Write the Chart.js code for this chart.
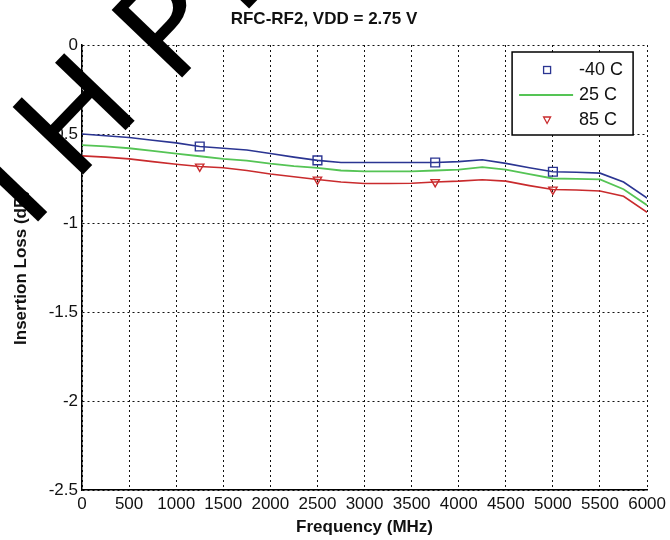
<!DOCTYPE html>
<html lang="en">
<head>
    <meta charset="UTF-8">
    <title>RFC-RF2 Insertion Loss</title>
    <script src="https://cdn.jsdelivr.net/npm/chart.js"></script>
    <style>
        body {
            margin: 0;
            padding: 0;
            background-color: #fff;
        }
        .chart-box {
            width: 670px;
            height: 540px;
        }
    </style>
</head>
<body>
    <div class="chart-box">
        <canvas id="lossChart" width="670" height="540"></canvas>
    </div>

    <script>
        // Werte
        const freqMHz = [0, 250, 500, 750, 1000, 1250, 1500, 1750, 2000, 2250, 2500, 2750, 3000,
                         3250, 3500, 3750, 4000, 4250, 4500, 4750, 5000, 5250, 5500, 5750, 6000];
        const lossM40 = [-0.50, -0.51, -0.52, -0.535, -0.55, -0.57, -0.58, -0.59, -0.61, -0.63, -0.648, -0.66, -0.66,
                         -0.66, -0.66, -0.66, -0.655, -0.645, -0.665, -0.69, -0.712, -0.715, -0.72, -0.77, -0.86];
        const loss25 = [-0.563, -0.57, -0.58, -0.595, -0.61, -0.625, -0.64, -0.65, -0.667, -0.68, -0.69, -0.705, -0.71,
                        -0.71, -0.71, -0.705, -0.70, -0.686, -0.70, -0.725, -0.75, -0.752, -0.755, -0.81, -0.90];
        const loss85 = [-0.623, -0.63, -0.64, -0.655, -0.67, -0.683, -0.69, -0.705, -0.725, -0.74, -0.756, -0.77, -0.778,
                        -0.778, -0.777, -0.77, -0.765, -0.757, -0.765, -0.79, -0.812, -0.815, -0.82, -0.85, -0.94];
        const markerIdx = [5, 10, 15, 20];
        const seriesNames = ['-40 C', '25 C', '85 C'];

        const blue = '#2b3592';
        const green = '#55c455';
        const red = '#c92b2d';
        const sans = '"Liberation Sans", Arial, sans-serif';

        const toXY = vals => freqMHz.map((f, i) => ({ x: f, y: vals[i] }));
        const markerRadius = r => freqMHz.map((_, i) => markerIdx.includes(i) ? r : 0);

        // Legende wie im Original: Marker / Linie / Marker in einem Kasten
        const boxLegend = {
            id: 'boxLegend',
            afterDraw(chart) {
                const ctx = chart.ctx;
                const area = chart.chartArea;
                const w = 121, h = 83;
                const left = area.right - 14 - w;
                const top = area.top + 7;
                ctx.save();
                ctx.fillStyle = '#fff';
                ctx.fillRect(left, top, w, h);
                ctx.strokeStyle = '#000';
                ctx.lineWidth = 1.5;
                ctx.strokeRect(left, top, w, h);
                ctx.font = '18px ' + sans;
                ctx.textBaseline = 'middle';
                ctx.fillStyle = '#111';
                const rows = [top + 18, top + 43, top + 68];
                const sx = left + 35;
                // -40 C: Quadrat
                ctx.strokeStyle = blue;
                ctx.lineWidth = 1.3;
                ctx.strokeRect(sx - 3.5, rows[0] - 3.5, 7, 7);
                // 25 C: Linie
                ctx.strokeStyle = green;
                ctx.lineWidth = 2;
                ctx.beginPath();
                ctx.moveTo(left + 7, rows[1]);
                ctx.lineTo(left + 61, rows[1]);
                ctx.stroke();
                // 85 C: Dreieck
                ctx.strokeStyle = red;
                ctx.lineWidth = 1.3;
                ctx.beginPath();
                ctx.moveTo(sx - 3.5, rows[2] - 3);
                ctx.lineTo(sx + 3.5, rows[2] - 3);
                ctx.lineTo(sx, rows[2] + 3.5);
                ctx.closePath();
                ctx.stroke();
                seriesNames.forEach((name, i) => ctx.fillText(name, left + 67, rows[i]));
                ctx.restore();
            }
        };

        // Wasserzeichen oben links
        const watermark = {
            id: 'watermark',
            afterDraw(chart) {
                const ctx = chart.ctx;
                const ang = -46.2 * Math.PI / 180;
                const letters = [['I', 29, 231], ['H', 74, 184], ['P', 173, 87], ['D', 240, 18]];
                ctx.save();
                ctx.fillStyle = '#000';
                ctx.font = '134px "DejaVu Sans"';
                ctx.textBaseline = 'alphabetic';
                letters.forEach(([ch, x, y]) => {
                    ctx.save();
                    ctx.translate(x, y);
                    ctx.rotate(ang);
                    ctx.fillText(ch, 0, 0);
                    ctx.restore();
                });
                ctx.restore();
            }
        };

        const ctx = document.getElementById('lossChart').getContext('2d');
        const lossChart = new Chart(ctx, {
            type: 'line',
            data: {
                datasets: [
                    {
                        label: seriesNames[0],
                        data: toXY(lossM40),
                        borderColor: blue,
                        borderWidth: 1.6,
                        pointStyle: 'rect',
                        pointRadius: markerRadius(6.2),
                        pointBorderColor: blue,
                        pointBorderWidth: 1.4,
                        pointBackgroundColor: 'rgba(0,0,0,0)',
                        tension: 0
                    },
                    {
                        label: seriesNames[1],
                        data: toXY(loss25),
                        borderColor: green,
                        borderWidth: 1.8,
                        pointRadius: 0,
                        tension: 0
                    },
                    {
                        label: seriesNames[2],
                        data: toXY(loss85),
                        borderColor: red,
                        borderWidth: 1.6,
                        pointStyle: 'triangle',
                        pointRotation: 180,
                        pointRadius: markerRadius(4.8),
                        pointBorderColor: red,
                        pointBorderWidth: 1.4,
                        pointBackgroundColor: 'rgba(0,0,0,0)',
                        tension: 0
                    }
                ]
            },
            options: {
                responsive: false,
                animation: false,
                layout: {
                    padding: { left: 0, right: 22, top: 0, bottom: 0 }
                },
                plugins: {
                    legend: { display: false },
                    tooltip: { enabled: false },
                    title: {
                        display: true,
                        text: 'RFC-RF2, VDD = 2.75 V',
                        color: '#111',
                        font: { family: sans, size: 17, weight: 'bold', lineHeight: 1.2 },
                        padding: { top: 9, bottom: 15.6 }
                    }
                },
                scales: {
                    x: {
                        type: 'linear',
                        min: 0,
                        max: 6000,
                        afterFit: s => { s.height = 50; },
                        ticks: {
                            stepSize: 500,
                            color: '#111',
                            padding: 4,
                            maxRotation: 0,
                            autoSkip: false,
                            font: { family: sans, size: 17 },
                            callback: v => String(v)
                        },
                        grid: { color: '#111', lineWidth: 1, drawTicks: false },
                        border: { display: true, color: '#000', width: 1.5, dash: [2, 3] },
                        title: {
                            display: true,
                            text: 'Frequency (MHz)',
                            color: '#111',
                            font: { family: sans, size: 17, weight: 'bold', lineHeight: 1 },
                            padding: { top: 0, bottom: 4 }
                        }
                    },
                    y: {
                        min: -2.5,
                        max: 0,
                        afterFit: s => { s.width = 82; },
                        ticks: {
                            stepSize: 0.5,
                            color: '#111',
                            padding: 4,
                            font: { family: sans, size: 17 },
                            callback: v => String(+v.toFixed(1))
                        },
                        grid: { color: '#111', lineWidth: 1, drawTicks: false },
                        border: { display: true, color: '#000', width: 1.5, dash: [2, 3] },
                        title: {
                            display: true,
                            text: 'Insertion Loss (dB)',
                            color: '#111',
                            font: { family: sans, size: 17, weight: 'bold', lineHeight: 1 },
                            padding: { top: 13, bottom: 0 }
                        }
                    }
                }
            },
            plugins: [boxLegend, watermark]
        });
    </script>
</body>
</html>
